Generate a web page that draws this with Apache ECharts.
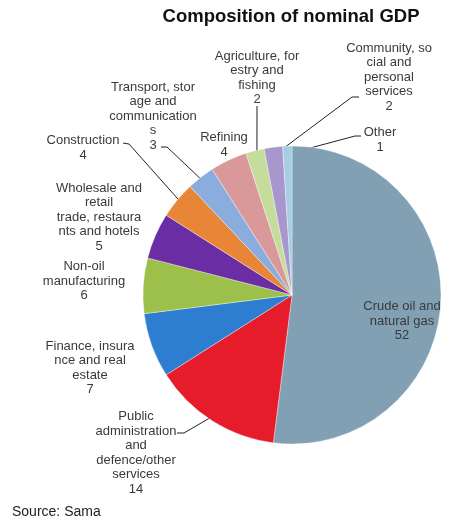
<!DOCTYPE html>
<html>
<head>
<meta charset="utf-8">
<style>
html,body{margin:0;padding:0;background:#fff;}
#chart{width:450px;height:526px;}
</style>
<script src="https://cdn.jsdelivr.net/npm/echarts@6/dist/echarts.min.js"></script>
</head>
<body>
<div id="chart"></div>
<script>
// ---- data ----
var categories = [
  'Crude oil and\nnatural gas',
  'Public\nadministration\nand\ndefence/other\nservices',
  'Finance, insura\nnce and real\nestate',
  'Non-oil\nmanufacturing',
  'Wholesale and\nretail\ntrade, restaura\nnts and hotels',
  'Construction',
  'Transport, stor\nage and\ncommunication\ns',
  'Refining',
  'Agriculture, for\nestry and\nfishing',
  'Community, so\ncial and\npersonal\nservices',
  'Other'
];
var values = [52, 14, 7, 6, 5, 4, 3, 4, 2, 2, 1];
var showLeader = [false, true, false, false, false, true, true, false, true, true, true];

// ---- styles / layout ----
var colors = ['#82a0b4', '#e61c2a', '#2d7ed0', '#9dc04a', '#6b2da4', '#e88536',
              '#8badde', '#d9999b', '#c5dc9a', '#a897cc', '#a5cde3'];
var labelPos = [[402, 321], [136, 453], [90, 368], [84, 281], [99, 217], [83, 148],
                [153, 116], [224, 145], [257, 78], [389, 77], [380, 140]];
// label-side ends of the leader lines: [end, bend]
var leaderSide = {
  1: [[177, 433], [184, 433]],
  5: [[123, 143], [129, 144]],
  6: [[161, 147], [167, 147]],
  8: [[257, 106], [257, 112]],
  9: [[359, 97], [352, 97]],
  10: [[361, 136], [355, 136]]
};
var CENTER = [292, 295];
var FONT = '"Liberation Sans", Arial, sans-serif';

var chart = echarts.init(document.getElementById('chart'), null, {renderer: 'canvas'});

var seriesData = categories.map(function (name, i) {
  return {
    name: name,
    value: values[i],
    itemStyle: {color: colors[i]},
    labelLine: {show: showLeader[i]}
  };
});

chart.setOption({
  animation: false,
  graphic: [
    {type: 'text', x: 291, y: 17,
     style: {text: 'Composition of nominal GDP', fill: '#111',
             font: 'bold 18.5px ' + FONT, textAlign: 'center', textVerticalAlign: 'middle',
             align: 'center', verticalAlign: 'middle'}},
    {type: 'text', x: 12, y: 512,
     style: {text: 'Source: Sama', fill: '#222',
             font: '14px ' + FONT, textAlign: 'left', textVerticalAlign: 'middle',
             align: 'left', verticalAlign: 'middle'}}
  ],
  series: [{
    type: 'pie',
    center: CENTER,
    radius: 149,
    startAngle: 90,
    clockwise: true,
    avoidLabelOverlap: false,
    itemStyle: {borderColor: 'rgba(255,255,255,0.6)', borderWidth: 0.6},
    label: {
      show: true,
      formatter: '{b}\n{c}',
      fontFamily: FONT,
      fontSize: 13,
      lineHeight: 14.5,
      color: '#3a3a3a',
      align: 'center'
    },
    labelLine: {
      show: true,
      length: 10,
      length2: 6,
      lineStyle: {color: '#222', width: 1}
    },
    labelLayout: function (params) {
      var i = params.dataIndex;
      var p = labelPos[i];
      var out = {x: p[0], y: p[1], align: 'center', verticalAlign: 'middle'};
      var side = leaderSide[i];
      if (side && params.labelLinePoints && params.labelLinePoints[0]) {
        var a = params.labelLinePoints[0];
        // push the arc anchor a few pixels into the slice
        var dx = a[0] - CENTER[0], dy = a[1] - CENTER[1];
        var d = Math.sqrt(dx * dx + dy * dy) || 1;
        var k = (d - 8) / d;
        var anchor = [CENTER[0] + dx * k, CENTER[1] + dy * k];
        out.labelLinePoints = [anchor, side[1], side[0]];
      }
      return out;
    },
    emphasis: {disabled: true},
    data: seriesData
  }]
});
</script>
</body>
</html>
